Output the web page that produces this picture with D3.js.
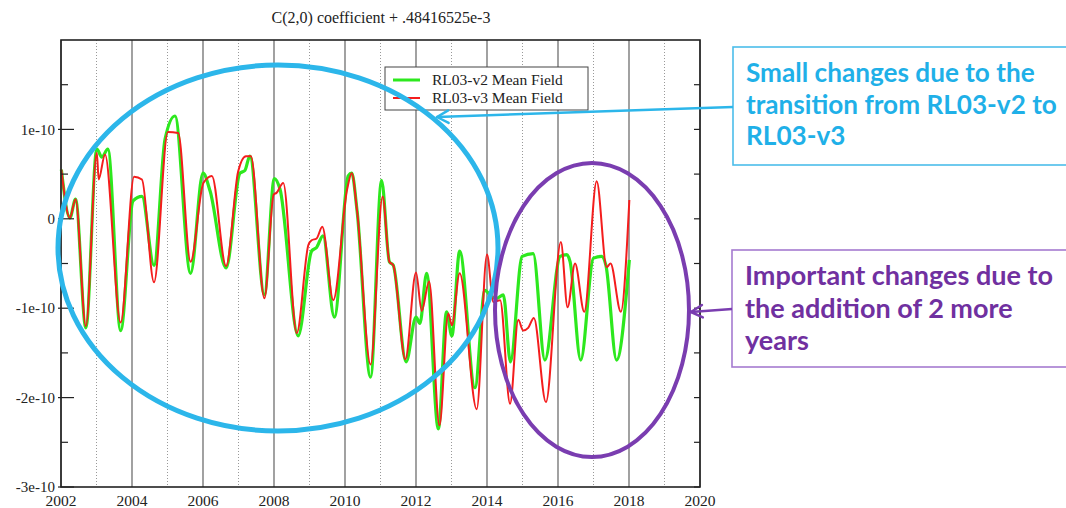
<!DOCTYPE html>
<html><head><meta charset="utf-8">
<script src="https://cdn.jsdelivr.net/npm/d3@7"></script>
<style>body{margin:0;background:#fff}svg{display:block}</style>
</head><body>
<svg id="c" width="1066" height="508"></svg>
<script>
// ---- data (values in units of 1e-10) ----
const greenYears = [2002.01,2002.25,2002.41,2002.70,2003.01,2003.15,2003.32,2003.68,2004.03,2004.28,2004.62,2004.93,2005.21,2005.65,2006.00,2006.20,2006.65,2007.04,2007.18,2007.32,2007.73,2008.01,2008.17,2008.68,2009.06,2009.20,2009.38,2009.70,2010.09,2010.19,2010.34,2010.72,2011.03,2011.25,2011.36,2011.72,2012.00,2012.11,2012.30,2012.63,2012.86,2013.01,2013.23,2013.66,2013.94,2014.13,2014.28,2014.46,2014.66,2014.99,2015.30,2015.63,2016.06,2016.25,2016.34,2016.64,2017.00,2017.23,2017.35,2017.65,2018.01];
const greenValues = [0.55,0.01,0.22,-1.22,0.78,0.69,0.78,-1.25,0.20,0.25,-0.52,0.89,1.15,-0.61,0.51,0.31,-0.55,0.51,0.54,0.70,-0.85,0.45,0.33,-1.31,-0.36,-0.32,-0.19,-1.10,0.48,0.51,0.09,-1.77,0.43,-0.48,-0.52,-1.60,-1.10,-1.17,-0.61,-2.35,-1.04,-1.31,-0.36,-1.89,-0.80,-0.87,-0.89,-0.85,-1.60,-0.42,-0.39,-1.58,-0.42,-0.40,-0.48,-1.58,-0.44,-0.42,-0.52,-1.58,-0.46];
const redYears = [2002.01,2002.25,2002.41,2002.70,2003.01,2003.06,2003.24,2003.68,2004.06,2004.28,2004.62,2005.01,2005.30,2005.65,2006.01,2006.25,2006.65,2006.99,2007.21,2007.35,2007.73,2007.99,2008.07,2008.26,2008.64,2008.97,2009.06,2009.20,2009.36,2009.67,2010.06,2010.19,2010.34,2010.72,2011.06,2011.25,2011.36,2011.70,2012.00,2012.16,2012.37,2012.66,2012.91,2013.01,2013.23,2013.71,2014.00,2014.18,2014.37,2014.65,2014.88,2015.02,2015.16,2015.32,2015.66,2016.08,2016.27,2016.48,2016.74,2017.09,2017.37,2017.48,2017.77,2018.01];
const redValues = [0.55,0.01,0.22,-1.20,0.74,0.44,0.72,-1.16,0.47,0.44,-0.71,0.97,0.96,-0.48,0.40,0.48,-0.53,0.53,0.70,0.70,-0.89,0.27,0.29,0.40,-1.28,-0.29,-0.24,-0.22,-0.09,-0.91,0.33,0.51,0.09,-1.63,0.25,-0.48,-0.52,-1.57,-0.60,-1.03,-0.70,-2.31,-1.06,-1.19,-0.61,-2.13,-0.40,-0.93,-0.91,-2.07,-1.13,-1.25,-1.22,-1.11,-2.05,-0.26,-0.99,-0.50,-1.04,0.42,-0.54,-0.50,-1.04,0.21];
const xTickValues = [2002,2004,2006,2008,2010,2012,2014,2016,2018,2020];
const xGridMinor = [2003,2005,2007,2009,2011,2013,2015,2017,2019];
const yTickValues = [-3,-2,-1,0,1];
const yTickLabels = ["-3e-10","-2e-10","-1e-10","0","1e-10"];
const yMinorTicks = [-2.5,-1.5,-0.5,0.5,1.5];
const seriesNames = ["RL03-v2 Mean Field","RL03-v3 Mean Field"];
const titleText = "C(2,0) coefficient + .48416525e-3";
const note1Lines = ["Small changes due to the","transition from RL03-v2 to","RL03-v3"];
const note2Lines = ["Important changes due to","the addition of 2 more","years"];

// ---- layout ----
const svg = d3.select("#c");
const L = 61, R = 700, T = 40, B = 487;
const x = d3.scaleLinear().domain([2002, 2020]).range([L, R]);
const y = d3.scaleLinear().domain([-3, 2]).range([B, T]);
const serif = "'Liberation Serif','Times New Roman',serif";
const GREEN = "#2de81e", RED = "#f41d1d";

svg.append("rect").attr("width",1066).attr("height",508).attr("fill","#fff");

// grid
svg.append("g").selectAll("line").data(xTickValues).join("line")
  .attr("x1", d => x(d)).attr("x2", d => x(d)).attr("y1", T).attr("y2", B)
  .attr("stroke", "#555").attr("stroke-width", 1.1);
svg.append("g").selectAll("line").data(xGridMinor).join("line")
  .attr("x1", d => x(d)).attr("x2", d => x(d)).attr("y1", T).attr("y2", B)
  .attr("stroke", "#999").attr("stroke-width", 1).attr("stroke-dasharray", "1,2");

// series
const line = d3.line().x(d => x(d[0])).y(d => y(d[1])).curve(d3.curveMonotoneX);
const gData = d3.zip(greenYears, greenValues);
const rData = d3.zip(redYears, redValues);
svg.append("path").datum(gData).attr("d", line).attr("fill","none")
  .attr("stroke", GREEN).attr("stroke-width", 3.2).attr("stroke-linejoin","round");
svg.append("path").datum(rData).attr("d", line).attr("fill","none")
  .attr("stroke", RED).attr("stroke-width", 2).attr("stroke-linejoin","round");

// frame
svg.append("rect").attr("x", L).attr("y", T).attr("width", R-L).attr("height", B-T)
  .attr("fill","none").attr("stroke","#222").attr("stroke-width",1.6);

// y ticks (inward, both sides)
const yt = svg.append("g");
yt.selectAll("line.maj").data(yTickValues).join("line").attr("class","maj")
  .attr("x1", L - 3).attr("x2", L + 13).attr("y1", d => y(d)).attr("y2", d => y(d))
  .attr("stroke","#222").attr("stroke-width",1.2);
yt.selectAll("line.min").data(yMinorTicks).join("line").attr("class","min")
  .attr("x1", L).attr("x2", L + 7).attr("y1", d => y(d)).attr("y2", d => y(d))
  .attr("stroke","#222").attr("stroke-width",1.2);
yt.selectAll("line.rmaj").data(yTickValues.concat(yMinorTicks)).join("line").attr("class","rmaj")
  .attr("x1", R - 6).attr("x2", R).attr("y1", d => y(d)).attr("y2", d => y(d))
  .attr("stroke","#222").attr("stroke-width",1.2);
yt.selectAll("text").data(yTickValues).join("text")
  .attr("x", L - 6).attr("y", d => y(d)).attr("dy","0.35em")
  .attr("text-anchor","end").attr("font-family", serif).attr("font-size", 15)
  .attr("fill","#222").text((d,i) => yTickLabels[i]);

// x labels
svg.append("g").selectAll("text").data(xTickValues).join("text")
  .attr("x", d => x(d)).attr("y", 506).attr("text-anchor","middle")
  .attr("font-family", serif).attr("font-size", 15.5).attr("fill","#222").text(d => d);

// title
svg.append("text").attr("x", 381).attr("y", 23).attr("text-anchor","middle")
  .attr("font-family", serif).attr("font-size", 16).attr("fill","#222").text(titleText);

// legend
const lg = svg.append("g");
lg.append("rect").attr("x",385).attr("y",67).attr("width",203).attr("height",43)
  .attr("fill","#fff").attr("stroke","#444").attr("stroke-width",1);
[GREEN, RED].forEach((c,i) => {
  const yy = 80 + i*18;
  lg.append("line").attr("x1",393).attr("x2",420).attr("y1",yy).attr("y2",yy)
    .attr("stroke",c).attr("stroke-width", i===0?3:2);
  lg.append("text").attr("x",432).attr("y",yy+5).attr("font-family",serif)
    .attr("font-size",15.5).attr("fill","#222").text(seriesNames[i]);
});

// annotations
const BLUE = "#2cb6ea", BLUE_T = "#1fb0e8", PURP = "#7a3db0", PURP_T = "#7030a0";
svg.append("ellipse").attr("cx",278).attr("cy",248).attr("rx",220).attr("ry",183)
  .attr("fill","none").attr("stroke",BLUE).attr("stroke-width",5);
svg.append("ellipse").attr("cx",592).attr("cy",310).attr("rx",97).attr("ry",147)
  .attr("fill","none").attr("stroke",PURP).attr("stroke-width",4);

function noteBox(x0, y0, h, lines, color, stroke, baseline0, lh, targetW){
  svg.append("rect").attr("x",x0).attr("y",y0).attr("width",1066-x0+5).attr("height",h)
    .attr("fill","#fff").attr("stroke",stroke).attr("stroke-width",1.6);
  const t = svg.append("g").selectAll("text").data(lines).join("text")
    .attr("x", x0+13).attr("y",(d,i)=>baseline0+i*lh)
    .attr("font-family","Lato,'Open Sans',sans-serif").attr("font-weight","bold")
    .attr("font-size",22).attr("fill",color).text(d=>d);
  const w = d3.max(t.nodes(), n => n.getComputedTextLength());
  t.attr("font-size", 22*targetW/w);
}
noteBox(733, 47, 118, note1Lines, BLUE_T, "#4bbdea", 82, 31.5, 311);
noteBox(732, 250, 117, note2Lines, PURP_T, "#a57bd0", 285, 32.5, 308);

function arrow(x1,y1,x2,y2,color,w){
  svg.append("line").attr("x1",x1).attr("y1",y1).attr("x2",x2).attr("y2",y2)
    .attr("stroke",color).attr("stroke-width",w);
  const a = Math.atan2(y1-y2, x1-x2), len = 13, sp = 0.5;
  [a+sp, a-sp].forEach(b => svg.append("line").attr("x1",x2).attr("y1",y2)
    .attr("x2",x2+len*Math.cos(b)).attr("y2",y2+len*Math.sin(b))
    .attr("stroke",color).attr("stroke-width",w).attr("stroke-linecap","round"));
}
arrow(733,107,437,117,BLUE,2.5);
arrow(732,309,691,312,PURP,2.5);
</script>
</body></html>
